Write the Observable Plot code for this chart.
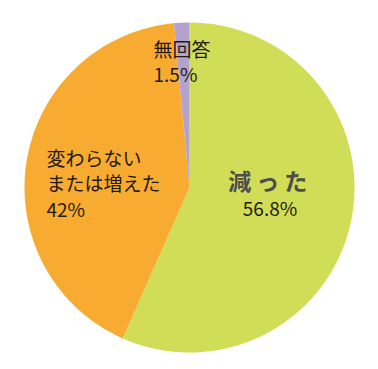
<!DOCTYPE html>
<html>
<head>
<meta charset="utf-8">
<script src="https://cdn.jsdelivr.net/npm/d3@7"></script>
<script src="https://cdn.jsdelivr.net/npm/@observablehq/plot@0.6"></script>
<style>
  html, body { margin: 0; padding: 0; background: #fff; }
  #chart svg { display: block; }
</style>
</head>
<body>
<div id="chart"></div>
<script>
const categories = ["減った", "変わらないまたは増えた", "無回答"];
const values = [56.8, 42, 1.5];
const valueLabels = ["56.8%", "42%", "1.5%"];
const colors = ["#d1dd57", "#f8ab31", "#b3a2cd"];

// pie angles from d3.pie, clockwise from the top
const arcs = d3.pie().sort(null).value(d => d)(values);
const rows = [];
arcs.forEach((a, i) => {
  const n = Math.max(4, Math.ceil((a.endAngle - a.startAngle) / (2 * Math.PI) * 360));
  rows.push({name: categories[i], x: 0, y: 0});
  for (let k = 0; k <= n; k++) {
    const t = a.startAngle + (a.endAngle - a.startAngle) * k / n;
    rows.push({name: categories[i], x: Math.sin(t), y: Math.cos(t)});
  }
  rows.push({name: categories[i], x: 0, y: 0});
});

const font = "'Noto Sans CJK JP', 'Noto Sans', sans-serif";
const ink = "#231815";

const plot = Plot.plot({
  width: 378,
  height: 369,
  marginLeft: 24,
  marginRight: 24,
  marginTop: 22,
  marginBottom: 17,
  x: {domain: [-1, 1], axis: null},
  y: {domain: [-1, 1], axis: null},
  color: {domain: categories, range: colors},
  style: {background: "#fff", fontFamily: font},
  marks: [
    Plot.line(rows, {x: "x", y: "y", z: "name", fill: "name", stroke: "none", curve: "linear"}),
    Plot.text([categories[2] + "\n" + valueLabels[2]], {
      x: [-0.218], y: [0.642], text: d => d, textAnchor: "start", lineAnchor: "bottom",
      fontSize: 19, lineHeight: 1.27, fill: ink
    }),
    Plot.text(["変わらない\nまたは増えた\n" + valueLabels[1]], {
      x: [-0.867], y: [-0.176], text: d => d, textAnchor: "start", lineAnchor: "bottom",
      fontSize: 19, lineHeight: 1.34, fill: ink
    }),
    Plot.text([categories[0]], {
      x: [0.49], y: [-0.018], text: d => d, textAnchor: "middle", lineAnchor: "bottom",
      fontSize: 23, fontWeight: "bold", fill: "#4d4d4d", className: "big"
    }),
    Plot.text([valueLabels[0]], {
      x: [0.488], y: [-0.170], text: d => d, textAnchor: "middle", lineAnchor: "bottom",
      fontSize: 19, fill: ink
    })
  ]
});
d3.select(plot).selectAll(".big text").style("letter-spacing", "5px");
document.getElementById("chart").appendChild(plot);
</script>
</body>
</html>
